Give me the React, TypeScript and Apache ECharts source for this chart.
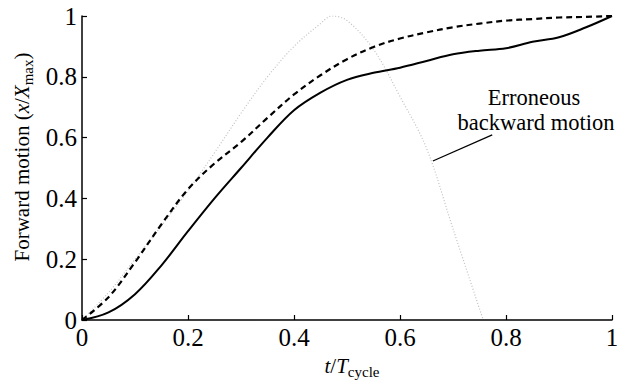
import React, { useEffect, useRef } from "react";
import * as echarts from "echarts";

const xTickLabels = ["0", "0.2", "0.4", "0.6", "0.8", "1"];
const yTickLabels = ["0", "0.2", "0.4", "0.6", "0.8", "1"];

const solidT = [0, 0.05, 0.1, 0.15, 0.2, 0.25, 0.3, 0.35, 0.4, 0.45, 0.5, 0.55, 0.6, 0.65, 0.7, 0.75, 0.8, 0.85, 0.9, 0.95, 1];
const solidV = [0, 0.025, 0.085, 0.18, 0.292, 0.4, 0.5, 0.6, 0.69, 0.748, 0.79, 0.813, 0.83, 0.852, 0.874, 0.886, 0.894, 0.915, 0.93, 0.962, 1];

const dashedT = [0, 0.05, 0.1, 0.15, 0.2, 0.25, 0.3, 0.35, 0.4, 0.45, 0.5, 0.55, 0.6, 0.65, 0.7, 0.75, 0.8, 0.85, 0.9, 0.95, 1];
const dashedV = [0, 0.075, 0.19, 0.315, 0.43, 0.515, 0.585, 0.665, 0.742, 0.805, 0.858, 0.898, 0.926, 0.946, 0.963, 0.975, 0.985, 0.99, 0.995, 0.997, 1];

const dottedT = [0, 0.05, 0.1, 0.15, 0.2, 0.25, 0.3, 0.35, 0.4, 0.45, 0.471, 0.5, 0.55, 0.6, 0.65, 0.7, 0.757];
const dottedV = [0, 0.09, 0.2, 0.31, 0.425, 0.55, 0.68, 0.8, 0.9, 0.975, 1.0, 0.985, 0.89, 0.735, 0.565, 0.3, 0];

const annotationLines = ["Erroneous", "backward motion"];

const pairs = (t: number[], v: number[]) => t.map((x, i) => [x, v[i]]);

const FONT = "Liberation Serif";

export default function App() {
  const ref = useRef<HTMLDivElement>(null);
  useEffect(() => {
    document.body.style.margin = "0";
    const chart = echarts.init(ref.current!, null, { renderer: "svg" });
    const axisCommon = {
      type: "value" as const,
      min: 0,
      max: 1,
      interval: 0.2,
      splitLine: { show: false },
      axisLine: { show: true, lineStyle: { color: "#000", width: 1.5 } },
      axisTick: { show: true, inside: true, length: 5, lineStyle: { color: "#000", width: 1.2 } },
    };
    const rich = {
      i: { fontFamily: FONT, fontSize: 21, fontStyle: "italic", lineHeight: 26, color: "#000" },
      n: { fontFamily: FONT, fontSize: 21, lineHeight: 26, color: "#000" },
      s: { fontFamily: FONT, fontSize: 15, lineHeight: 10, verticalAlign: "bottom", color: "#000" },
    };
    const labelStyle = {
      fontFamily: FONT,
      fontSize: 25,
      color: "#000",
      margin: 5,
    };
    chart.setOption({
      animation: false,
      grid: { left: 82, right: 14, top: 16, bottom: 61, containLabel: false },
      xAxis: {
        ...axisCommon,
        axisLabel: { ...labelStyle, formatter: (v: number) => xTickLabels[Math.round(v * 5)] },
      },
      yAxis: {
        ...axisCommon,
        axisLabel: { ...labelStyle, formatter: (v: number) => yTickLabels[Math.round(v * 5)] },
      },
      graphic: [
        {
          type: "text",
          x: 352,
          y: 366,
          style: {
            text: "{i|t}{n|/}{i|T}{s|cycle}",
            rich,
            align: "center",
            verticalAlign: "middle",
          },
        },
        {
          type: "text",
          x: 22,
          y: 157,
          rotation: Math.PI / 2,
          style: {
            text: "{n|Forward motion (}{i|x}{n|/}{i|X}{s|max}{n|)}",
            rich,
            align: "center",
            verticalAlign: "middle",
          },
        },
        {
          type: "text",
          x: 534,
          y: 97,
          style: {
            text: annotationLines[0],
            fontFamily: FONT,
            fontSize: 22.5,
            fill: "#000",
            align: "center",
            verticalAlign: "middle",
          },
        },
        {
          type: "text",
          x: 536,
          y: 122,
          style: {
            text: annotationLines[1],
            fontFamily: FONT,
            fontSize: 22.5,
            fill: "#000",
            align: "center",
            verticalAlign: "middle",
          },
        },
      ],
      series: [
        {
          type: "line",
          data: pairs(dottedT, dottedV),
          smooth: 0.35,
          showSymbol: false,
          lineStyle: { color: "#c0c0c0", width: 1.2, type: [1, 2] },
          markLine: {
            silent: true,
            symbol: ["none", "none"],
            label: { show: false },
            lineStyle: { color: "#000", width: 1.3, type: "solid" },
            data: [[{ coord: [0.662, 0.523] }, { coord: [0.774, 0.609] }]],
          },
          z: 1,
        },
        {
          type: "line",
          data: pairs(dashedT, dashedV),
          smooth: 0.35,
          showSymbol: false,
          lineStyle: { color: "#000", width: 2.2, type: [6, 4] },
          z: 2,
        },
        {
          type: "line",
          data: pairs(solidT, solidV),
          smooth: 0.35,
          showSymbol: false,
          lineStyle: { color: "#000", width: 2 },
          z: 3,
        },
      ],
    });
    return () => chart.dispose();
  }, []);
  return <div ref={ref} style={{ width: 626, height: 381 }} />;
}
